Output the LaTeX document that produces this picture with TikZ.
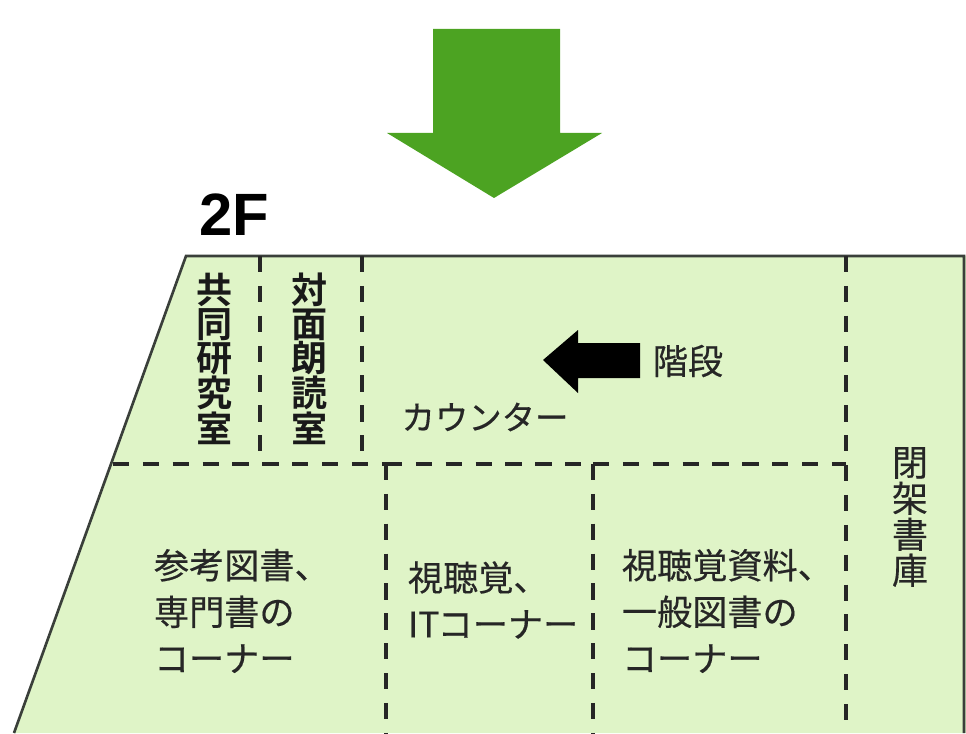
\documentclass[tikz,border=0pt]{standalone}
\usepackage{fontspec}
\setmainfont{Liberation Sans}
\newfontfamily\jpfont[FakeBold=0.4]{Noto Sans CJK JP}
\newfontfamily\jpbold{Noto Sans CJK JP Bold}
\definecolor{roomgreen}{HTML}{DFF4C7}
\definecolor{arrowgreen}{HTML}{4CA322}
\definecolor{wallgray}{HTML}{3A3F3A}
\begin{document}
\begin{tikzpicture}[x=0.02cm,y=-0.02cm,inner sep=0pt,outer sep=0pt,
		partition/.style={line width=2.2pt,dash pattern=on 9.2pt off 7.8pt,black!85},
		roomtext/.style={font=\jpfont\fontsize{20}{26.5}\selectfont,align=left,text=black!85},
		tatetext/.style={font=\jpfont\fontsize{20.5}{20.5}\selectfont,align=center,text=black!85},
		tatebold/.style={font=\jpbold\fontsize{20.5}{19.2}\selectfont,align=center,text=black!90}]
	\useasboundingbox (0,0) rectangle (966,733) ;
	\fill[arrowgreen] (433,29)--(560,29)--(560,133)--(602,133)--(494,198)--(387,133)--(433,133)--cycle ;
	\draw (234,215) node (floor) {\fontsize{34}{34}\selectfont\bfseries 2F} ;
	\fill[roomgreen] (186,256)--(966,256)--(966,733)--(14,733)--cycle ;
	\draw[wallgray,line width=1.5pt] (14,733)--(186,256)--(964,256)--(964,733) ;
	\draw[partition] (260,256)--(260,464) (362,256)--(362,464) (846,256)--(846,733) ;
	\draw[partition] (113,464)--(386,464) (386,464)--(593,464) (593,464)--(846,464) ;
	\draw[partition] (386,464)--(386,733) (593,464)--(593,733) ;
	\fill (640,343)--(578,343)--(578,330)--(543,360)--(578,393)--(578,378)--(640,378)--cycle ;
	\draw (215,359) node[tatebold] (kyodo) {共\\同\\研\\究\\室} ;
	\draw (310,359) node[tatebold] (taimen) {対\\面\\朗\\読\\室} ;
	\draw (485,417) node[roomtext,font=\jpfont\fontsize{19}{26.5}\selectfont] (counter) {カウンター} ;
	\draw (688,361) node[roomtext] (kaidan) {階段} ;
	\draw (910,517) node[tatetext] (kaika) {閉\\架\\書\\庫} ;
	\draw (154,611) node[roomtext,right] (sanko) {参考図書、\\専門書の\\コーナー} ;
	\draw (408,600) node[roomtext,right] (shicho) {視聴覚、\\IT\kern-1ptコーナー} ;
	\draw (622,611) node[roomtext,right] (shiryo) {視聴覚資料、\\一般図書の\\コーナー} ;
\end{tikzpicture}
\end{document}
